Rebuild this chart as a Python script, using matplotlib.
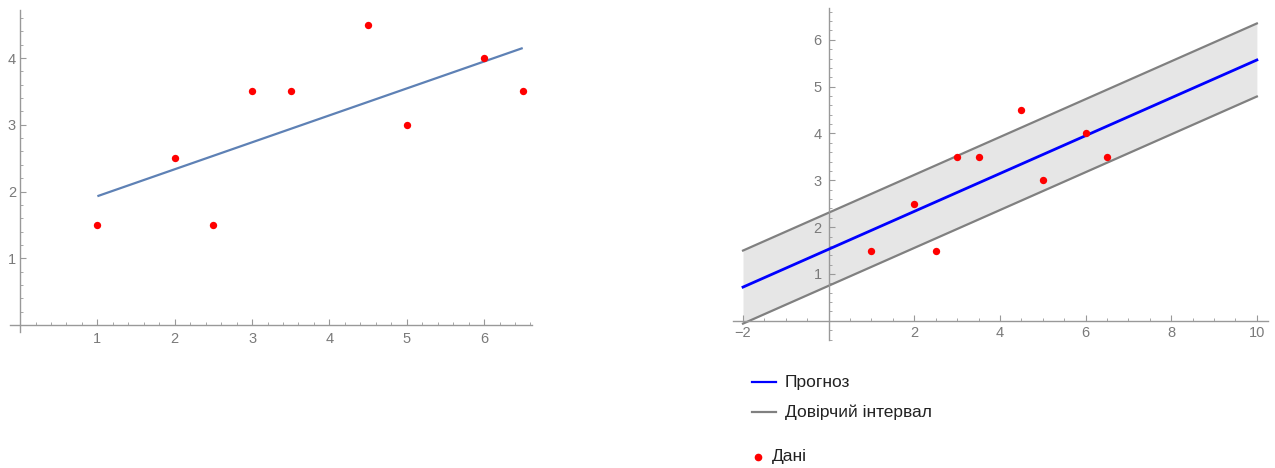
import matplotlib
matplotlib.use("Agg")
import matplotlib.pyplot as plt
from matplotlib.lines import Line2D
from matplotlib.ticker import MultipleLocator

# ---- data ----
data_x = [1, 2, 2.5, 3, 3.5, 4.5, 5, 6, 6.5]
data_y = [1.5, 2.5, 1.5, 3.5, 3.5, 4.5, 3, 4, 3.5]

fit_x = [1, 6.5]
fit_y = [1.93, 4.15]

pred_x = [-2, 10]
pred_y = [0.72, 5.57]
upper_y = [1.50, 6.35]
lower_y = [-0.06, 4.79]

left_xticks = [1, 2, 3, 4, 5, 6]
left_yticks = [1, 2, 3, 4]
right_xticks = [-2, 2, 4, 6, 8, 10]
right_yticks = [1, 2, 3, 4, 5, 6]

legend_labels = ["Прогноз", "Довірчий інтервал", "Дані"]

# ---- style ----
AXIS_C = "#999999"
LABEL_C = "#7a7a7a"
FONT = ["Liberation Sans", "DejaVu Sans"]
plt.rcParams["font.family"] = FONT

fig = plt.figure(figsize=(12.75, 4.68), dpi=100)


def style_axes(ax, xminor, yminor, xpad, ypad):
    for s in ["top", "right"]:
        ax.spines[s].set_visible(False)
    ax.spines["left"].set_position(("data", 0))
    ax.spines["bottom"].set_position(("data", 0))
    for s in ["left", "bottom"]:
        ax.spines[s].set_color(AXIS_C)
        ax.spines[s].set_linewidth(1.0)
    ax.xaxis.set_minor_locator(MultipleLocator(xminor))
    ax.yaxis.set_minor_locator(MultipleLocator(yminor))
    ax.tick_params(which="major", direction="in", length=4, width=0.8,
                   color=AXIS_C, labelcolor=LABEL_C, labelsize=10.5)
    ax.tick_params(which="minor", direction="in", length=2, width=0.6,
                   color=AXIS_C)
    ax.tick_params(axis="x", which="major", pad=xpad)
    ax.tick_params(axis="y", which="major", pad=ypad)
    ax.set_facecolor("none")


# ---- left panel ----
axL = fig.add_axes([10 / 1275, 1 - 332 / 468, 522 / 1275, 322 / 468])
axL.plot(fit_x, fit_y, color="#5E81B5", lw=1.6, solid_capstyle="butt")
axL.scatter(data_x, data_y, s=28, color="red", zorder=3, linewidths=0)
axL.set_xlim(-0.13, 6.62)
axL.set_ylim(-0.105, 4.72)
axL.set_xticks(left_xticks)
axL.set_yticks(left_yticks)
style_axes(axL, 0.2, 0.2, 5, 3)

# ---- right panel ----
axR = fig.add_axes([733 / 1275, 1 - 340 / 468, 535 / 1275, 332 / 468])
axR.fill_between(pred_x, lower_y, upper_y, color="#e6e6e6", lw=0, zorder=1)
axR.plot(pred_x, upper_y, color="#808080", lw=1.6, zorder=2)
axR.plot(pred_x, lower_y, color="#808080", lw=1.6, zorder=2)
axR.plot(pred_x, pred_y, color="#0000ff", lw=2.0, zorder=3)
axR.scatter(data_x, data_y, s=28, color="red", zorder=4, linewidths=0)
axR.set_xlim(-2.234, 10.26)
axR.set_ylim(-0.41, 6.68)
axR.set_xticks(right_xticks)
axR.set_yticks(right_yticks)
style_axes(axR, 0.5, 0.2, 4, 5)

# ---- legend (manual, figure coords) ----
W, H = 1275, 468


def fx(px):
    return px / W


def fy(py):
    return 1 - py / H


fig.add_artist(Line2D([fx(752), fx(776)], [fy(382), fy(382)],
                      color="#0000ff", lw=1.6, transform=fig.transFigure))
fig.add_artist(Line2D([fx(752), fx(776)], [fy(412), fy(412)],
                      color="#808080", lw=1.6, transform=fig.transFigure))
fig.add_artist(Line2D([fx(758)], [fy(457)], marker="o", markersize=4.5,
                      color="red", lw=0, transform=fig.transFigure))
fig.text(fx(785), fy(382), legend_labels[0], fontsize=12.5, color="#222222",
         va="center", ha="left")
fig.text(fx(785), fy(412), legend_labels[1], fontsize=12.5, color="#222222",
         va="center", ha="left")
fig.text(fx(772), fy(456), legend_labels[2], fontsize=12.5, color="#222222",
         va="center", ha="left")

fig.savefig("out.png", dpi=100)
